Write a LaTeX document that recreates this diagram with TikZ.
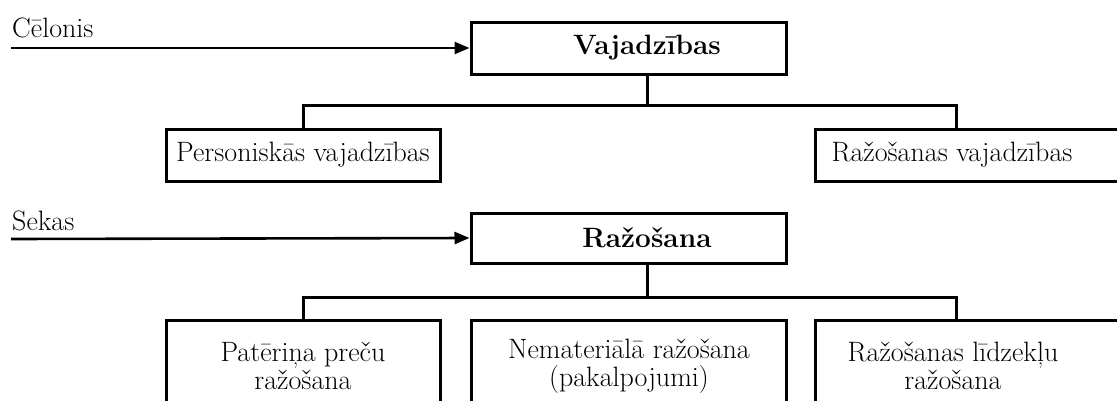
\documentclass[tikz,border=0pt]{standalone}
\usepackage{fontspec}
\usetikzlibrary{arrows.meta,calc}
\begin{document}
\begin{tikzpicture}[x=1pt,y=-1pt,
  box/.style={draw, line width=3pt, inner sep=0pt, font=\fontsize{28}{28}\selectfont, align=center, fill=white},
  lbl/.style={anchor=base west, inner sep=0pt, font=\fontsize{28}{28}\selectfont},
  conn/.style={line width=3pt},
  arr/.style={line width=2.6pt, -{Triangle[length=15pt,width=12pt]}}]
\useasboundingbox (0,0) rectangle (1117,400);
\clip (0,0) rectangle (1117,400);
% top part
\node[box, minimum width=315, minimum height=52] (V) at (628.5,48) {\hspace*{37pt}\textbf{Vajadzības}};
\node[box, minimum width=274, minimum height=52] (P) at (303,155) {Personiskās vajadzības};
\node[box, minimum width=320, minimum height=52] (RV) at (975,155) {Ražošanas vajadzības\hspace*{46pt}};
\node[lbl] (c) at (12,37) {Cēlonis};
\coordinate (cs) at (11,48);
\draw[arr] (cs) -- (V.west);
\coordinate (j1) at (647,105);
\coordinate (j1r) at (956,105);
\draw[conn] (V.south -| j1) -- (j1);
\draw[conn] (P.north) |- (j1r) -- (j1r |- RV.north);
% bottom part
\node[box, minimum width=315, minimum height=50] (R) at (628.5,238) {\hspace*{37pt}\textbf{Ražošana}};
\node[lbl] (s) at (12,230) {Sekas};
\coordinate (ss) at (11,239);
\draw[arr] (ss) -- (R.west);
\node[box, minimum width=274, minimum height=92] (B1) at (303,366) {Patēriņa preču\\ražošana};
\node[box, minimum width=315, minimum height=92] (B2) at (629,366) {Nemateriālā ražošana\\(pakalpojumi)};
\node[box, minimum width=320, minimum height=92] (B3) at (975,366) {Ražošanas līdzekļu\hspace*{44pt}\\ražošana\hspace*{44pt}};
\coordinate (j2) at (647,297);
\coordinate (j2r) at (956,297);
\draw[conn] (R.south -| j2) -- (j2);
\draw[conn] (B1.north) |- (j2r) -- (j2r |- B3.north);
\end{tikzpicture}
\end{document}
